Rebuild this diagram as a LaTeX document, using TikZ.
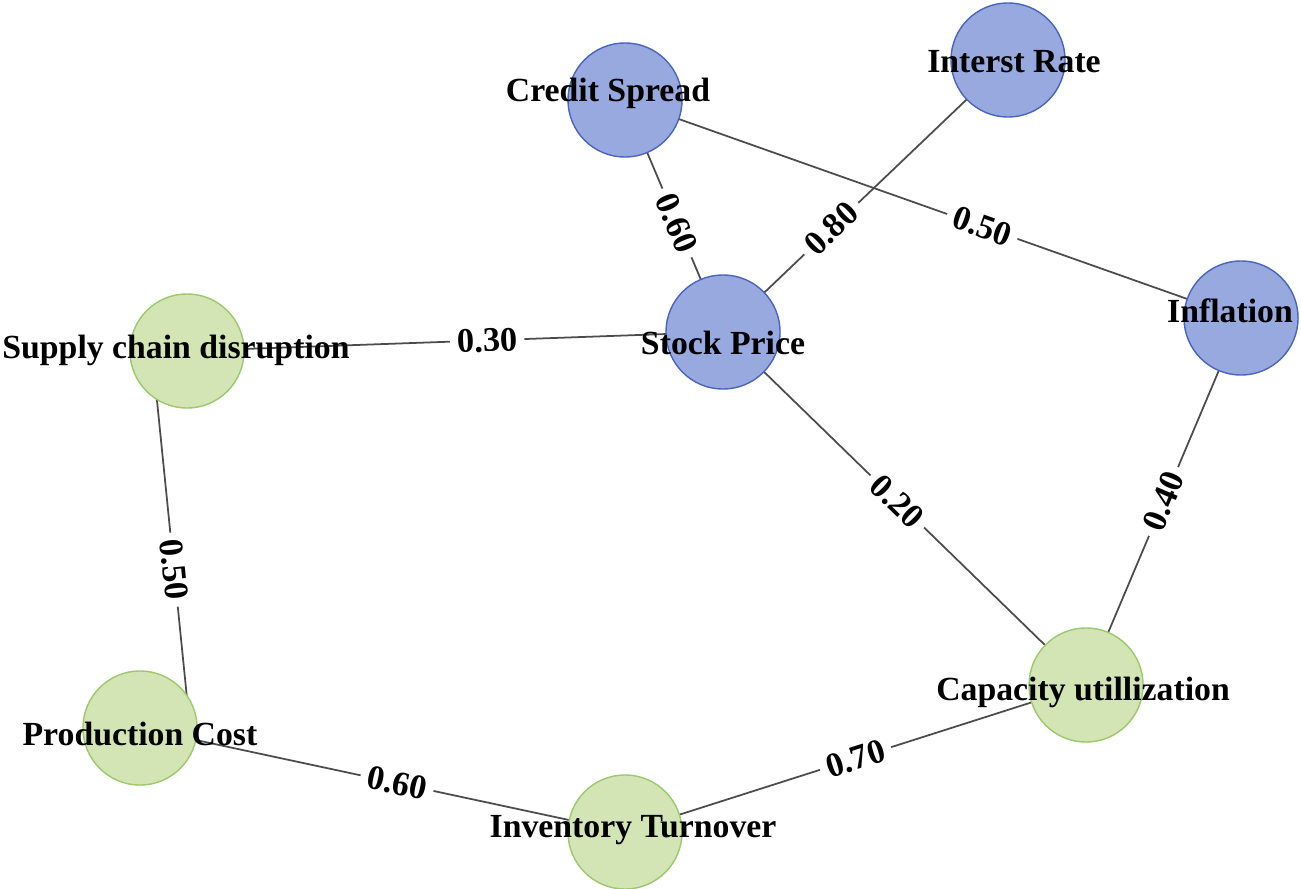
\documentclass[tikz,border=0pt]{standalone}
\usepackage{fontspec}
\setmainfont{Liberation Serif}
\usetikzlibrary{backgrounds}
\definecolor{bfill}{HTML}{97A9DF}
\definecolor{bline}{HTML}{4A64C0}
\definecolor{gfill}{HTML}{D3E5B5}
\definecolor{gline}{HTML}{9CC96B}
\begin{document}
\begin{tikzpicture}[x=0.01cm,y=-0.01cm,
 bnode/.style={circle,draw=bline,fill=bfill,minimum size=1.14cm,inner sep=0pt},
 gnode/.style={circle,draw=gline,fill=gfill,minimum size=1.14cm,inner sep=0pt},
 lab/.style={font=\bfseries\fontsize{9.6pt}{11pt}\selectfont,inner sep=0pt},
 elab/.style={font=\bfseries\fontsize{9.8pt}{11pt}\selectfont,fill=white,inner sep=2pt,sloped},
 edge/.style={draw=black!70,line width=0.5pt}]
\useasboundingbox (0,0) rectangle (1301,888);
\node[bnode] (cs) at (625,100) {};
\node[bnode] (ir) at (1008,60) {};
\node[bnode] (sp) at (723,332) {};
\node[bnode] (inf) at (1241,318) {};
\node[gnode] (sc) at (187,351) {};
\node[gnode] (pc) at (140,728) {};
\node[gnode] (it) at (625,832) {};
\node[gnode] (cu) at (1086,685) {};
\coordinate (scE) at (152,351);
\coordinate (pcE) at (190,728);
\begin{pgfonlayer}{background}
\path[edge] (cs.center) -- node[elab,pos=0.53] {0.60} (sp.center);
\path[edge] (ir.center) -- node[elab,pos=0.62] {0.80} (sp.center);
\path[edge] (cs.center) -- node[elab,pos=0.58] {0.50} (inf.center);
\path[edge] (sc.center) -- node[elab,pos=0.56] {0.30} (sp.center);
\path[edge] (sp.center) -- node[elab,pos=0.48] {0.20} (cu.center);
\path[edge] (inf.center) -- node[elab,pos=0.5] {0.40} (cu.center);
\path[edge] (scE) -- node[elab,pos=0.58] {0.50} (pcE);
\path[edge] (pc.center) -- node[elab,pos=0.53] {0.60} (it.center);
\path[edge] (it.center) -- node[elab,pos=0.5] {0.70} (cu.center);
\end{pgfonlayer}
\node[lab] (csl) at (608,93) {Credit Spread};
\node[lab] (irl) at (1014,62) {Interst Rate};
\node[lab] (spl) at (723,343) {Stock Price};
\node[lab] (infl) at (1230,311) {Inflation};
\node[lab] (scl) at (176,350) {Supply chain disruption};
\node[lab] (pcl) at (140,734) {Production Cost};
\node[lab] (itl) at (633,830) {Inventory Turnover};
\node[lab] (cul) at (1083,692) {Capacity utillization};
\end{tikzpicture}
\end{document}
